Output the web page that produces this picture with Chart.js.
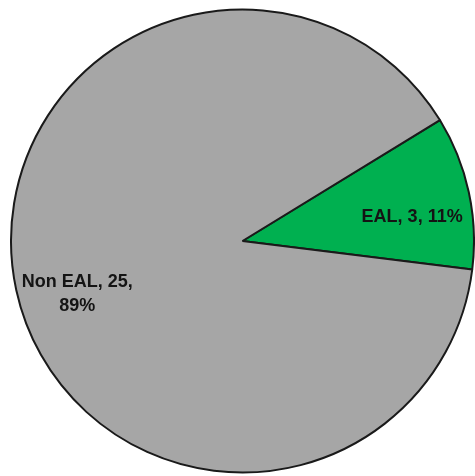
<!DOCTYPE html>
<html>
<head>
<meta charset="utf-8">
<script src="https://cdn.jsdelivr.net/npm/chart.js@4.4.1/dist/chart.umd.min.js"></script>
<style>
  html, body { margin: 0; padding: 0; background: #fff; }
  #wrap { width: 475px; height: 476px; position: relative; }
</style>
</head>
<body>
<div id="wrap"><canvas id="pieChart"></canvas></div>
<script>
const categories = ["EAL", "Non EAL"];
const counts = [3, 25];
const percents = ["11%", "89%"];
const sliceColors = ['#00B050', '#A6A6A6'];

// label text lines, placed by angle (offset from slice middle) and radius fraction
const labelLines = [
    ["EAL, 3, 11%"],
    ["Non EAL, 25,", "89%"]
];
const labelPlace = [
    { angleShift: 4.2, dist: 0.74 },
    { angleShift: -5.6, dist: 0.75 }
];

const sliceLabels = {
    id: 'sliceLabels',
    afterDatasetsDraw(chart) {
        const ctx = chart.ctx;
        const arcs = chart.getDatasetMeta(0).data;
        ctx.save();
        ctx.font = 'bold 18px "Liberation Sans", Arial, sans-serif';
        ctx.fillStyle = '#141414';
        ctx.textAlign = 'center';
        ctx.textBaseline = 'middle';
        arcs.forEach((arc, i) => {
            const p = arc.getProps(['x', 'y', 'startAngle', 'endAngle', 'outerRadius'], true);
            const mid = (p.startAngle + p.endAngle) / 2 + labelPlace[i].angleShift * Math.PI / 180;
            const r = p.outerRadius * labelPlace[i].dist;
            const cx = p.x + Math.cos(mid) * r;
            const cy = p.y + Math.sin(mid) * r;
            const lines = labelLines[i];
            const lh = 24.5;
            lines.forEach((t, j) => {
                ctx.fillText(t, cx, cy + (j - (lines.length - 1) / 2) * lh);
            });
        });
        ctx.restore();
    }
};

const canvas = document.getElementById('pieChart');
const ctx = canvas.getContext('2d');
new Chart(ctx, {
    type: 'pie',
    data: {
        labels: categories,
        datasets: [{
            data: counts,
            backgroundColor: sliceColors,
            borderColor: '#1a1a1a',
            borderWidth: 2
        }]
    },
    options: {
        responsive: true,
        maintainAspectRatio: false,
        animation: false,
        rotation: 58.5,
        layout: {
            padding: { left: 10, top: 6, right: -6, bottom: 0 }
        },
        plugins: {
            legend: { display: false },
            tooltip: { enabled: false }
        }
    },
    plugins: [sliceLabels]
});
</script>
</body>
</html>
